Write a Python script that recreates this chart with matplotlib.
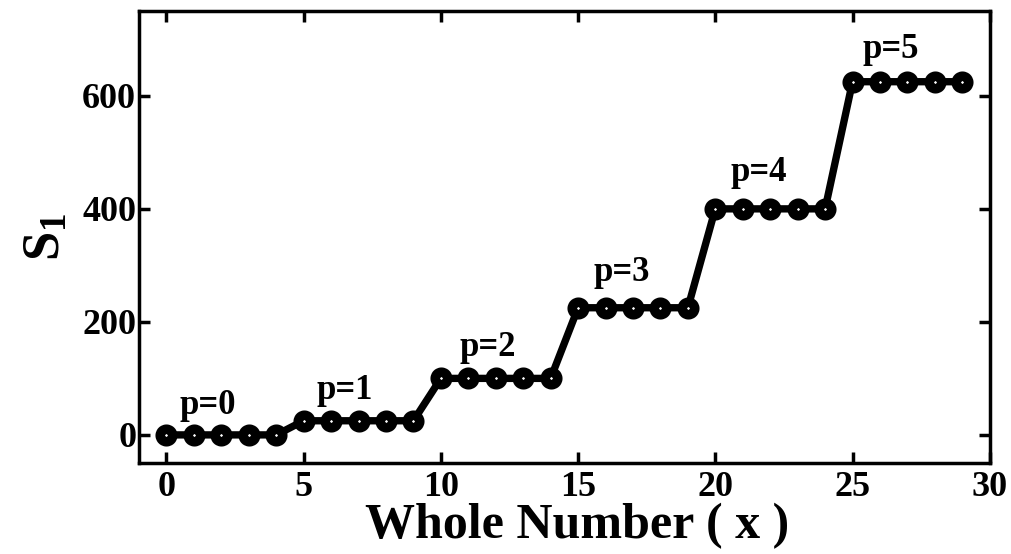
import numpy as np
import matplotlib
matplotlib.use('Agg')
import matplotlib.pyplot as plt

# whole numbers and S1 values
x_vals = [0, 1, 2, 3, 4, 5, 6, 7, 8, 9, 10, 11, 12, 13, 14,
          15, 16, 17, 18, 19, 20, 21, 22, 23, 24, 25, 26, 27, 28, 29]
s1_vals = [0, 0, 0, 0, 0, 25, 25, 25, 25, 25, 100, 100, 100, 100, 100,
           225, 225, 225, 225, 225, 400, 400, 400, 400, 400, 625, 625, 625, 625, 625]

# labels for each step and where they sit
p_labels = ['p=0', 'p=1', 'p=2', 'p=3', 'p=4', 'p=5']
p_x = [1.5, 6.5, 11.7, 16.6, 21.6, 26.4]
p_y = [52, 78, 155, 288, 465, 682]

x_ticks = [0, 5, 10, 15, 20, 25, 30]
y_ticks = [0, 200, 400, 600]

plt.rcParams['font.family'] = ['Liberation Serif', 'DejaVu Serif']
plt.rcParams['font.weight'] = 'bold'
plt.rcParams['mathtext.fontset'] = 'custom'
plt.rcParams['mathtext.rm'] = 'Liberation Serif:bold'
plt.rcParams['mathtext.it'] = 'Liberation Serif:bold'

fig = plt.figure(figsize=(10.11, 5.54), dpi=100)
ax = fig.add_axes([0.1375, 0.164, 0.8415, 0.816])

ax.plot(x_vals, s1_vals, color='black', linewidth=5.3, marker='o',
        markersize=9, markeredgewidth=6.9, markerfacecolor='white',
        markeredgecolor='black')

for lab, px, py in zip(p_labels, p_x, p_y):
    ax.text(px, py, lab, fontsize=25, fontweight='bold', ha='center', va='center')

ax.set_xlim(-1, 30)
ax.set_ylim(-50, 750)
ax.set_xticks(x_ticks)
ax.set_yticks(y_ticks)
ax.tick_params(direction='in', length=8, width=2.5, labelsize=26,
               top=True, right=True)
ax.tick_params(axis='x', pad=6)
ax.tick_params(axis='y', pad=2)
for sp in ax.spines.values():
    sp.set_linewidth(2.5)

ax.set_xlabel('Whole Number ( x )', fontsize=36, fontweight='bold')
ax.xaxis.set_label_coords(0.515, -0.088)
ax.set_ylabel('S$_1$', fontsize=38, fontweight='bold', labelpad=8)

fig.savefig('out.png', dpi=100)
